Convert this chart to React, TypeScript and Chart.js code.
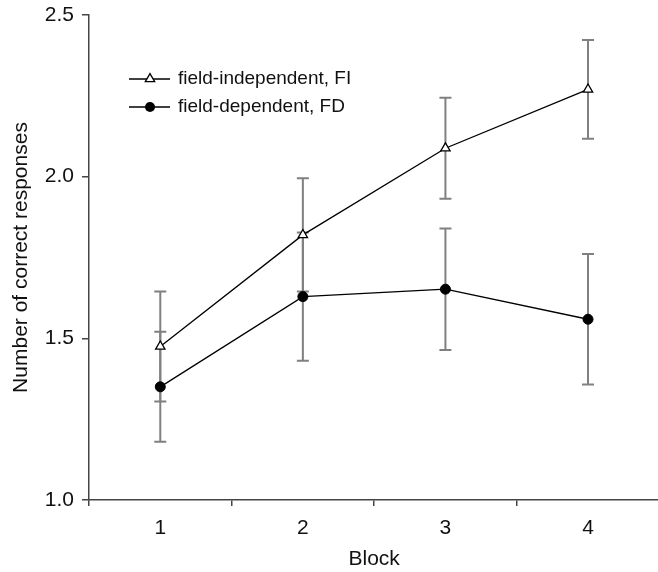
import React, { useEffect, useRef } from "react";
import { Chart, registerables } from "chart.js";

Chart.register(...registerables);

const blocks = ["1", "2", "3", "4"];
const fiMeans = [1.475, 1.82, 2.088, 2.27];
const fiErrors = [0.17, 0.175, 0.156, 0.153];
const fdMeans = [1.35, 1.629, 1.652, 1.559];
const fdErrors = [0.17, 0.198, 0.188, 0.202];
const yTicks = [1.0, 1.5, 2.0, 2.5];
const seriesLabels = ["field-independent, FI", "field-dependent, FD"];

const FONT = "'Liberation Sans', Arial, Helvetica, sans-serif";
const AXIS = "#444";
const TEXT = "#111";

const errorBarPlugin = {
  id: "errorBars",
  beforeDatasetsDraw(chart: any) {
    const ctx = chart.ctx;
    const yScale = chart.scales.y;
    const errs = [fiErrors, fdErrors];
    ctx.save();
    ctx.strokeStyle = "#808080";
    ctx.lineWidth = 2;
    chart.data.datasets.forEach((ds: any, di: number) => {
      const meta = chart.getDatasetMeta(di);
      meta.data.forEach((pt: any, i: number) => {
        const v = ds.data[i];
        const e = errs[di][i];
        const x = pt.x;
        const yTop = yScale.getPixelForValue(v + e);
        const yBot = yScale.getPixelForValue(v - e);
        ctx.beginPath();
        ctx.moveTo(x, yTop);
        ctx.lineTo(x, yBot);
        ctx.moveTo(x - 6, yTop);
        ctx.lineTo(x + 6, yTop);
        ctx.moveTo(x - 6, yBot);
        ctx.lineTo(x + 6, yBot);
        ctx.stroke();
      });
    });
    ctx.restore();
  },
};

const legendPlugin = {
  id: "customLegend",
  afterDraw(chart: any) {
    const ctx = chart.ctx;
    ctx.save();
    chart.data.datasets.forEach((ds: any, i: number) => {
      const y = 79 + i * 28;
      ctx.strokeStyle = "#000";
      ctx.lineWidth = 1.3;
      ctx.beginPath();
      ctx.moveTo(129, y);
      ctx.lineTo(170, y);
      ctx.stroke();
      ctx.beginPath();
      if (ds.pointStyle === "triangle") {
        const r = 5.4;
        ctx.moveTo(150, y - r);
        ctx.lineTo(150 + r * Math.sin(Math.PI / 3), y + r / 2);
        ctx.lineTo(150 - r * Math.sin(Math.PI / 3), y + r / 2);
        ctx.closePath();
        ctx.fillStyle = "#fff";
        ctx.fill();
        ctx.stroke();
      } else {
        ctx.arc(150, y, 5, 0, Math.PI * 2);
        ctx.fillStyle = "#000";
        ctx.fill();
      }
      ctx.fillStyle = TEXT;
      ctx.font = `19px ${FONT}`;
      ctx.textBaseline = "middle";
      ctx.textAlign = "left";
      ctx.fillText(ds.label, 178, y);
    });
    ctx.restore();
  },
};

export default function App() {
  const ref = useRef<HTMLCanvasElement | null>(null);
  useEffect(() => {
    if (!ref.current) return;
    const chart = new Chart(ref.current, {
      type: "line",
      data: {
        labels: blocks,
        datasets: [
          {
            label: seriesLabels[0],
            data: fiMeans,
            borderColor: "#000",
            borderWidth: 1.3,
            pointStyle: "triangle",
            pointRadius: 5.4,
            pointBackgroundColor: "#fff",
            pointBorderColor: "#000",
            pointBorderWidth: 1.3,
            tension: 0,
          },
          {
            label: seriesLabels[1],
            data: fdMeans,
            borderColor: "#000",
            borderWidth: 1.3,
            pointStyle: "circle",
            pointRadius: 5,
            pointBackgroundColor: "#000",
            pointBorderColor: "#000",
            pointBorderWidth: 1,
            tension: 0,
          },
        ],
      },
      options: {
        animation: false,
        responsive: false,
        devicePixelRatio: 1,
        layout: { padding: { top: 15, left: 0, right: 0, bottom: 0 } },
        plugins: {
          legend: { display: false },
          tooltip: { enabled: false },
        },
        scales: {
          x: {
            type: "category",
            offset: true,
            grid: {
              offset: true,
              drawOnChartArea: false,
              drawTicks: true,
              tickLength: 6,
              color: AXIS,
              lineWidth: 1.5,
            },
            border: { display: true, color: AXIS, width: 1.5 },
            ticks: {
              color: TEXT,
              font: { family: FONT, size: 21 },
              padding: 10,
            },
            title: {
              display: true,
              text: "Block",
              color: TEXT,
              font: { family: FONT, size: 21 },
              padding: { top: 0, bottom: 0 },
            },
            afterFit(scale: any) {
              scale.height = 72;
              scale.paddingLeft = 0;
              scale.paddingRight = 0;
            },
          },
          y: {
            min: 1,
            max: 2.5,
            afterBuildTicks(scale: any) {
              scale.ticks = yTicks.map((v) => ({ value: v }));
            },
            grid: {
              drawOnChartArea: false,
              drawTicks: true,
              tickLength: 7,
              color: AXIS,
              lineWidth: 1.5,
            },
            border: { display: true, color: AXIS, width: 1.5 },
            ticks: {
              color: TEXT,
              font: { family: FONT, size: 21 },
              padding: 8,
              callback: (v: any) => Number(v).toFixed(1),
            },
            title: {
              display: true,
              text: "Number of correct responses",
              color: TEXT,
              font: { family: FONT, size: 21 },
              padding: { top: 9, bottom: 0 },
            },
            afterFit(scale: any) {
              scale.width = 89;
              scale.paddingTop = 0;
              scale.paddingBottom = 0;
            },
          },
        },
      },
      plugins: [errorBarPlugin, legendPlugin],
    } as any);
    return () => chart.destroy();
  }, []);
  return (
    <div
      style={{
        position: "fixed",
        left: 0,
        top: 0,
        width: 658,
        height: 572,
        overflow: "hidden",
        background: "#fff",
      }}
    >
      <canvas ref={ref} width={666} height={572} style={{ display: "block", width: 666, height: 572 }} />
    </div>
  );
}
